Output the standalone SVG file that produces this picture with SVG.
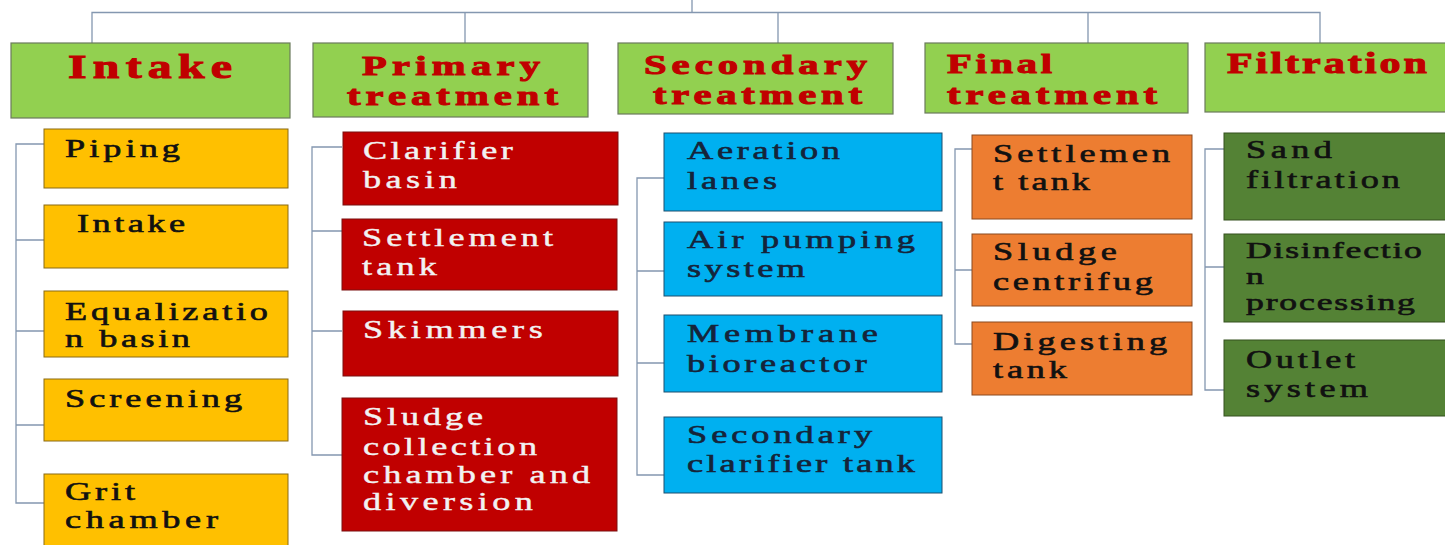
<svg xmlns="http://www.w3.org/2000/svg" width="1445" height="545" viewBox="0 0 1445 545">
<style>
.hdr{fill:#92D050;stroke:#6b7b5c;stroke-width:1.2}
.ht{font-family:"Liberation Serif",serif;font-weight:bold;fill:#C00000;stroke:#C00000;stroke-width:1;font-size:28px}
.bt{font-family:"Liberation Serif",serif;font-size:25px}
.y{fill:#FFC000;stroke:#8a6a14;stroke-width:1}
.r{fill:#C00000;stroke:#7a1010;stroke-width:1}
.b{fill:#00B0F0;stroke:#1d4f6e;stroke-width:1}
.o{fill:#ED7D31;stroke:#8a4a20;stroke-width:1}
.g{fill:#548235;stroke:#34501f;stroke-width:1}
.tk{fill:#111111;stroke:#111111;stroke-width:0.6}
.tw{fill:#F2F2F2;stroke:#F2F2F2;stroke-width:0.4}
.tn{fill:#15243a;stroke:#15243a;stroke-width:0.6}
.con{fill:none;stroke:#8497b0;stroke-width:1.3}
</style>
<rect width="1445" height="545" fill="#ffffff"/>
<g id="connectors" class="con">
<path d="M692,0 V12.5 M92,43 V12.5 H1320 V43 M465,12.5 V43 M778,12.5 V43 M1088,12.5 V43"/>
<path d="M44,144 H16 V503 H44 M16,240 H44 M16,331 H44 M16,425 H44"/>
<path d="M342,147 H312 V455 H342 M312,231 H342 M312,331 H342"/>
<path d="M664,178 H637 V475 H664 M637,271 H664 M637,363 H664"/>
<path d="M972,149 H955 V344 H972 M955,270 H972"/>
<path d="M1224,149 H1205 V390 H1224 M1205,267 H1224"/>
</g>
<g id="h-intake"><rect class="hdr" x="11" y="43" width="279" height="75"/><text class="ht" transform="translate(68,78) scale(1.45,1)" style="font-size:33px" textLength="113.1" lengthAdjust="spacing">Intake</text></g>
<g id="h-primary"><rect class="hdr" x="313" y="43" width="275" height="74"/><text class="ht" transform="translate(362,75) scale(1.45,1)" textLength="122.8" lengthAdjust="spacing">Primary</text><text class="ht" transform="translate(347,105) scale(1.45,1)" textLength="145.5" lengthAdjust="spacing">treatment</text></g>
<g id="h-secondary"><rect class="hdr" x="618" y="43" width="275" height="71"/><text class="ht" transform="translate(644,74) scale(1.45,1)" textLength="153.8" lengthAdjust="spacing">Secondary</text><text class="ht" transform="translate(653,104) scale(1.45,1)" textLength="144.1" lengthAdjust="spacing">treatment</text></g>
<g id="h-final"><rect class="hdr" x="925" y="43" width="263" height="70"/><text class="ht" transform="translate(947,73) scale(1.45,1)" textLength="72.4" lengthAdjust="spacing">Final</text><text class="ht" transform="translate(947,104) scale(1.45,1)" textLength="144.8" lengthAdjust="spacing">treatment</text></g>
<g id="h-filtration"><rect class="hdr" x="1205" y="43" width="245" height="69"/><text class="ht" transform="translate(1227,73) scale(1.45,1)" style="font-size:29px" textLength="137.9" lengthAdjust="spacing">Filtration</text></g>

<g id="n-piping"><rect class="y" x="44" y="129" width="244" height="59"/><text class="bt tk" transform="translate(65,157) scale(1.45,1)" textLength="79.3" lengthAdjust="spacing">Piping</text></g>
<g id="n-intake"><rect class="y" x="44" y="205" width="244" height="63"/><text class="bt tk" transform="translate(77,232) scale(1.45,1)" textLength="74.5" lengthAdjust="spacing">Intake</text></g>
<g id="n-equalization"><rect class="y" x="44" y="291" width="244" height="66"/><text class="bt tk" transform="translate(65,320) scale(1.45,1)" textLength="140" lengthAdjust="spacing">Equalizatio</text><text class="bt tk" transform="translate(65,347) scale(1.45,1)" textLength="86.2" lengthAdjust="spacing">n basin</text></g>
<g id="n-screening"><rect class="y" x="44" y="379" width="244" height="62"/><text class="bt tk" transform="translate(65,407) scale(1.45,1)" textLength="122.1" lengthAdjust="spacing">Screening</text></g>
<g id="n-grit"><rect class="y" x="44" y="474" width="244" height="75"/><text class="bt tk" transform="translate(65,500) scale(1.45,1)" textLength="48.3" lengthAdjust="spacing">Grit</text><text class="bt tk" transform="translate(65,528) scale(1.45,1)" textLength="105.5" lengthAdjust="spacing">chamber</text></g>

<g id="n-clarifier"><rect class="r" x="343" y="132" width="275" height="73"/><text class="bt tw" transform="translate(363,159) scale(1.45,1)" textLength="103.4" lengthAdjust="spacing">Clarifier</text><text class="bt tw" transform="translate(363,188) scale(1.45,1)" textLength="64.8" lengthAdjust="spacing">basin</text></g>
<g id="n-settlement"><rect class="r" x="342" y="219" width="275" height="71"/><text class="bt tw" transform="translate(362,246) scale(1.45,1)" textLength="131.7" lengthAdjust="spacing">Settlement</text><text class="bt tw" transform="translate(362,275) scale(1.45,1)" textLength="51.7" lengthAdjust="spacing">tank</text></g>
<g id="n-skimmers"><rect class="r" x="343" y="311" width="275" height="65"/><text class="bt tw" transform="translate(363,338) scale(1.45,1)" textLength="124.1" lengthAdjust="spacing">Skimmers</text></g>
<g id="n-sludge"><rect class="r" x="342" y="398" width="275" height="133"/><text class="bt tw" transform="translate(363,425) scale(1.45,1)" textLength="82.8" lengthAdjust="spacing">Sludge</text><text class="bt tw" transform="translate(363,455) scale(1.45,1)" textLength="120" lengthAdjust="spacing">collection</text><text class="bt tw" transform="translate(363,483) scale(1.45,1)" textLength="156.6" lengthAdjust="spacing">chamber and</text><text class="bt tw" transform="translate(363,510) scale(1.45,1)" textLength="117.2" lengthAdjust="spacing">diversion</text></g>

<g id="n-aeration"><rect class="b" x="664" y="133" width="278" height="78"/><text class="bt tn" transform="translate(687,159) scale(1.45,1)" textLength="105.5" lengthAdjust="spacing">Aeration</text><text class="bt tn" transform="translate(687,189) scale(1.45,1)" textLength="62.1" lengthAdjust="spacing">lanes</text></g>
<g id="n-air"><rect class="b" x="664" y="222" width="278" height="74"/><text class="bt tn" transform="translate(687,248) scale(1.45,1)" textLength="157.2" lengthAdjust="spacing">Air pumping</text><text class="bt tn" transform="translate(687,277) scale(1.45,1)" textLength="81.4" lengthAdjust="spacing">system</text></g>
<g id="n-membrane"><rect class="b" x="664" y="315" width="278" height="77"/><text class="bt tn" transform="translate(687,342) scale(1.45,1)" textLength="131.7" lengthAdjust="spacing">Membrane</text><text class="bt tn" transform="translate(687,372) scale(1.45,1)" textLength="124.1" lengthAdjust="spacing">bioreactor</text></g>
<g id="n-secclar"><rect class="b" x="664" y="417" width="278" height="76"/><text class="bt tn" transform="translate(687,443) scale(1.45,1)" textLength="127.6" lengthAdjust="spacing">Secondary</text><text class="bt tn" transform="translate(687,472) scale(1.45,1)" textLength="157.2" lengthAdjust="spacing">clarifier tank</text></g>

<g id="n-settlement2"><rect class="o" x="972" y="135" width="220" height="84"/><text class="bt tk" transform="translate(993,162) scale(1.45,1)" textLength="122.1" lengthAdjust="spacing">Settlemen</text><text class="bt tk" transform="translate(993,190) scale(1.45,1)" textLength="66.9" lengthAdjust="spacing">t tank</text></g>
<g id="n-centrifuge"><rect class="o" x="972" y="234" width="220" height="72"/><text class="bt tk" transform="translate(993,260) scale(1.45,1)" textLength="85.5" lengthAdjust="spacing">Sludge</text><text class="bt tk" transform="translate(993,290) scale(1.45,1)" textLength="110.3" lengthAdjust="spacing">centrifug</text></g>
<g id="n-digesting"><rect class="o" x="972" y="322" width="220" height="73"/><text class="bt tk" transform="translate(993,350) scale(1.45,1)" textLength="120" lengthAdjust="spacing">Digesting</text><text class="bt tk" transform="translate(993,378) scale(1.45,1)" textLength="51" lengthAdjust="spacing">tank</text></g>

<g id="n-sand"><rect class="g" x="1224" y="133" width="226" height="87"/><text class="bt tk" transform="translate(1246,158) scale(1.45,1)" textLength="59.3" lengthAdjust="spacing">Sand</text><text class="bt tk" transform="translate(1246,188) scale(1.45,1)" textLength="106.2" lengthAdjust="spacing">filtration</text></g>
<g id="n-disinfection"><rect class="g" x="1224" y="234" width="226" height="88"/><text class="bt tk" style="font-size:23px" transform="translate(1246,258) scale(1.55,1)" textLength="113.5" lengthAdjust="spacing">Disinfectio</text><text class="bt tk" style="font-size:23px" transform="translate(1246,284) scale(1.55,1)">n</text><text class="bt tk" style="font-size:23px" transform="translate(1246,310) scale(1.55,1)" textLength="109" lengthAdjust="spacing">processing</text></g>
<g id="n-outlet"><rect class="g" x="1224" y="340" width="226" height="76"/><text class="bt tk" transform="translate(1246,368) scale(1.45,1)" textLength="75.2" lengthAdjust="spacing">Outlet</text><text class="bt tk" transform="translate(1246,397) scale(1.45,1)" textLength="84.1" lengthAdjust="spacing">system</text></g>
</svg>
